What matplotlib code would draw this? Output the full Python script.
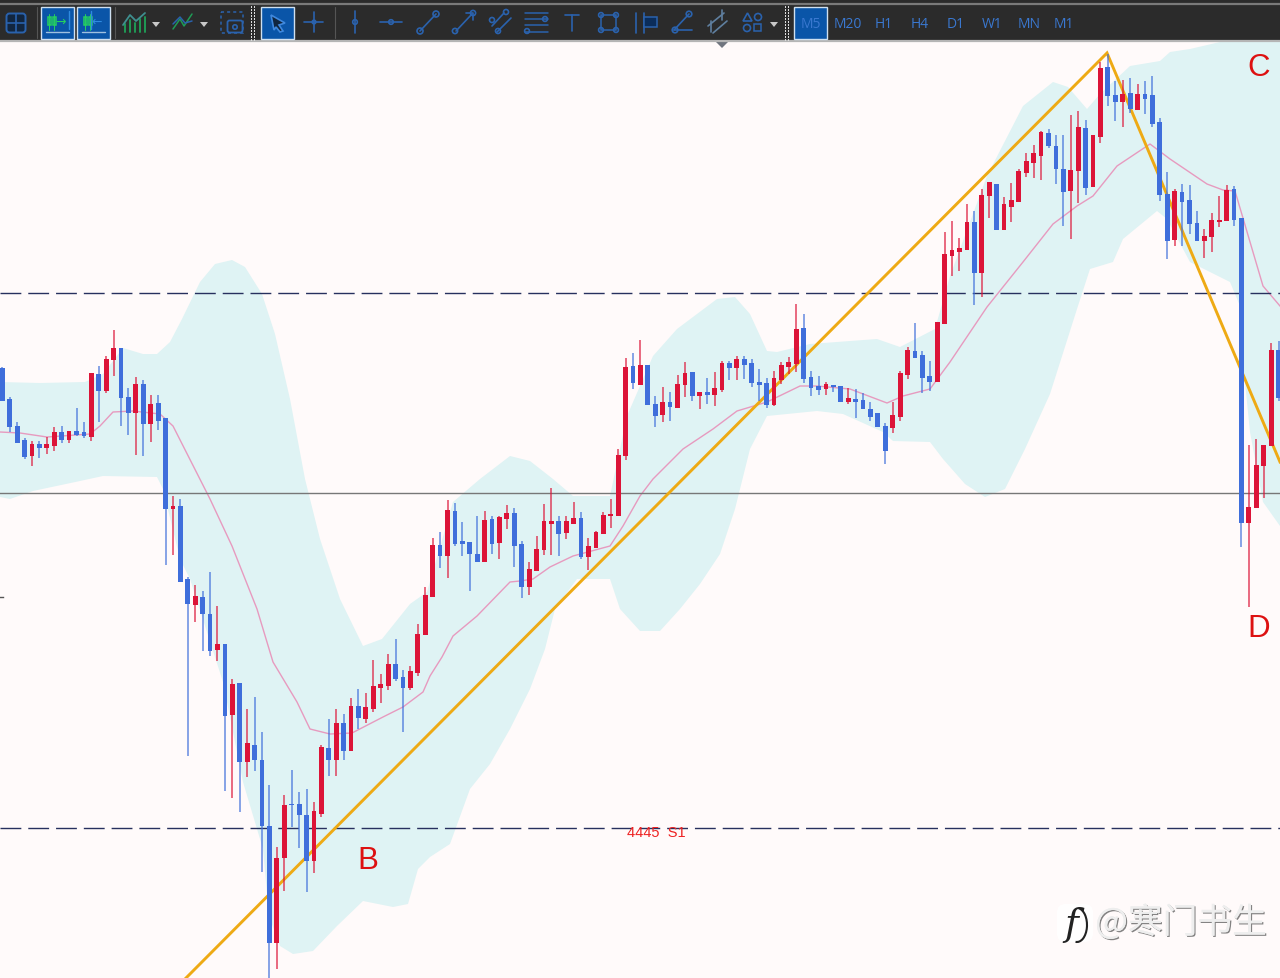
import matplotlib
matplotlib.use("Agg")
import matplotlib.pyplot as plt
import matplotlib.patches as patches
import matplotlib.patheffects as pe

# chart units are screen rows / columns
FIRST_BAR = 2.3
BAR_STEP = 7.42

kinds = ("bbbbrbrrbr" "bbrbrrbbrb" "rbbrbbrbbr" "brbrbbbrrb" "bbrrbrbrbr"
         "rrrbbrrrrb" "rbbbbrbrrb" "brrrrbrrbr" "rrrrrbrbbr" "brrbrbrrbr"
         "bbbbrrrrbb" "brbbrbbbbb" "rrrbbbrrrr" "rbrrbrrrrr" "rbbbrrbrrb"
         "brbrbbbbrb" "bbrrrrbbrr" "rrb")

body_top = [369, 400, 427, 441, 445, 445, 445, 433, 433, 432,
            432, 433, 374, 375, 360, 349, 349, 398, 385, 385,
            405, 404, 419, 507, 507, 580, 597, 598, 615, 645,
            645, 685, 684, 744, 746, 761, 827, 859, 806, 805,
            805, 816, 812, 748, 749, 724, 724, 707, 707, 708,
            687, 685, 665, 665, 678, 672, 635, 596, 546, 546,
            511, 512, 542, 543, 555, 521, 520, 518, 514, 514,
            545, 570, 550, 522, 522, 522, 522, 519, 519, 547,
            533, 516, 515, 456, 368, 367, 366, 366, 405, 403,
            403, 385, 374, 373, 393, 393, 389, 364, 364, 360,
            360, 364, 383, 384, 379, 366, 363, 330, 329, 378,
            387, 385, 386, 387, 399, 400, 401, 410, 414, 427,
            416, 374, 351, 352, 356, 377, 323, 255, 251, 249,
            223, 223, 196, 183, 185, 205, 201, 172, 162, 154,
            133, 134, 147, 170, 171, 128, 129, 136, 69, 68,
            96, 95, 94, 95, 95, 96, 123, 195, 192, 193,
            201, 224, 237, 221, 221, 191, 190, 219, 508, 466,
            446, 351, 351]
body_bottom = [402, 428, 444, 458, 457, 449, 449, 447, 441, 441,
               436, 437, 438, 392, 392, 361, 399, 414, 414, 425,
               425, 422, 510, 510, 583, 605, 606, 615, 652, 651,
               717, 716, 763, 763, 761, 827, 944, 944, 859, 806,
               816, 862, 862, 815, 761, 761, 752, 752, 719, 720,
               710, 689, 687, 680, 689, 689, 674, 636, 598, 557,
               557, 545, 545, 555, 563, 563, 545, 544, 520, 547,
               588, 588, 572, 551, 525, 535, 534, 525, 558, 558,
               549, 535, 517, 517, 457, 384, 386, 406, 417, 416,
               408, 409, 386, 397, 397, 396, 396, 391, 369, 369,
               366, 384, 386, 406, 406, 381, 368, 365, 380, 389,
               391, 390, 388, 403, 403, 403, 410, 418, 428, 452,
               429, 418, 376, 359, 379, 383, 383, 325, 257, 253,
               251, 274, 274, 197, 231, 231, 208, 203, 174, 164,
               157, 147, 170, 193, 192, 172, 189, 188, 138, 97,
               103, 103, 110, 111, 100, 125, 196, 242, 241, 203,
               225, 242, 242, 238, 223, 222, 221, 524, 524, 509,
               467, 447, 399]
wick_high = [368, 398, 423, 439, 442, 442, 438, 428, 427, 432,
             409, 423, 374, 367, 357, 331, 349, 389, 378, 381,
             396, 396, 419, 497, 500, 578, 586, 592, 573, 607,
             645, 680, 684, 710, 698, 733, 786, 848, 796, 771,
             793, 790, 803, 746, 720, 710, 715, 699, 690, 694,
             661, 675, 655, 640, 671, 667, 625, 588, 539, 533,
             501, 504, 523, 543, 517, 512, 517, 517, 506, 509,
             542, 563, 537, 505, 489, 517, 517, 503, 513, 539,
             532, 513, 500, 450, 359, 354, 341, 366, 397, 388,
             393, 376, 363, 373, 393, 379, 373, 362, 362, 357,
             357, 360, 370, 379, 372, 363, 358, 305, 315, 372,
             377, 383, 386, 387, 389, 390, 394, 403, 414, 424,
             403, 372, 348, 324, 352, 362, 323, 233, 222, 239,
             205, 212, 190, 183, 185, 198, 184, 170, 154, 146,
             132, 130, 136, 136, 116, 112, 121, 136, 63, 55,
             82, 81, 79, 85, 82, 77, 119, 173, 190, 185,
             186, 212, 230, 214, 197, 186, 187, 219, 446, 440,
             446, 344, 342]
wick_low = [402, 433, 444, 460, 467, 459, 455, 452, 444, 444,
            437, 439, 442, 423, 394, 377, 427, 436, 456, 457,
            443, 431, 566, 556, 583, 757, 623, 652, 657, 662,
            792, 799, 813, 778, 772, 873, 979, 970, 892, 828,
            849, 893, 874, 818, 777, 777, 761, 752, 730, 724,
            713, 704, 691, 682, 733, 691, 677, 636, 598, 569,
            579, 547, 557, 592, 563, 563, 555, 560, 530, 568,
            599, 596, 572, 556, 556, 557, 540, 525, 560, 571,
            549, 535, 529, 517, 461, 390, 386, 406, 428, 423,
            422, 409, 398, 402, 410, 405, 407, 393, 381, 381,
            380, 388, 402, 409, 407, 385, 375, 373, 384, 397,
            396, 396, 393, 403, 405, 419, 410, 422, 428, 465,
            434, 422, 380, 359, 394, 392, 383, 325, 277, 272,
            251, 306, 298, 219, 231, 231, 223, 203, 178, 179,
            181, 149, 185, 227, 240, 204, 196, 188, 144, 107,
            122, 128, 114, 111, 115, 128, 202, 260, 247, 247,
            235, 242, 259, 253, 228, 222, 227, 548, 608, 509,
            499, 447, 402]

# bollinger band, read at its corners
upper_x = [0, 40, 85, 103, 123, 143, 157, 170, 182, 200, 215, 232, 245, 262, 275, 290, 305, 320, 340, 363,
           382, 410, 427, 453, 480, 510, 530, 553, 573, 610, 627, 653, 677, 717, 735, 750, 767, 777, 810, 877,
           900, 935, 950, 987, 1023, 1053, 1068, 1087, 1100, 1130, 1160, 1170, 1190, 1220, 1280]
upper_y = [383, 384, 383, 375, 349, 355, 355, 343, 320, 283, 265, 261, 268, 295, 335, 400, 480, 540, 600, 647,
           640, 605, 593, 503, 480, 457, 462, 480, 497, 497, 417, 357, 330, 300, 298, 315, 352, 353, 345, 340,
           348, 330, 277, 177, 107, 83, 88, 110, 95, 67, 62, 53, 50, 43, 43]
lower_x = [0, 10, 33, 80, 103, 157, 163, 180, 190, 223, 243, 263, 269, 280, 293, 313, 337, 363, 393, 408,
           418, 430, 450, 470, 490, 510, 530, 545, 555, 577, 610, 620, 640, 660, 680, 700, 720, 735, 750, 767,
           817, 843, 883, 893, 930, 943, 965, 985, 1005, 1025, 1050, 1077, 1090, 1113, 1123, 1157, 1167, 1190, 1230, 1240,
           1243, 1250, 1263, 1280]
lower_y = [498, 500, 492, 482, 477, 478, 490, 560, 580, 683, 783, 850, 917, 947, 955, 952, 927, 902, 908, 905,
           870, 858, 845, 790, 765, 730, 690, 650, 610, 580, 580, 610, 632, 632, 610, 585, 555, 510, 450, 417,
           412, 415, 433, 442, 443, 460, 485, 498, 490, 450, 395, 310, 270, 263, 240, 212, 220, 263, 283, 307,
           363, 433, 503, 527]
mid_x = [0, 20, 47, 90, 100, 113, 133, 160, 173, 210, 232, 257, 273, 297, 310, 330, 352, 383, 403, 423,
         430, 442, 453, 477, 510, 520, 533, 550, 573, 610, 623, 640, 653, 683, 713, 737, 767, 800, 817, 850,
         887, 903, 930, 950, 987, 1023, 1053, 1077, 1093, 1117, 1150, 1170, 1207, 1223, 1235, 1263, 1280]
mid_y = [433, 434, 438, 435, 427, 413, 412, 415, 427, 500, 547, 610, 663, 703, 730, 735, 734, 718, 708, 693,
         677, 658, 637, 617, 583, 582, 580, 568, 557, 547, 527, 497, 480, 450, 430, 412, 403, 387, 387, 390,
         404, 397, 390, 363, 308, 263, 225, 207, 197, 167, 145, 160, 185, 191, 192, 287, 307]

swing_x = [186, 1107, 1280]
swing_y = [979, 54, 463]
level_rows = [293.5, 828.5]
mid_row = 493.5

periods = ["M5", "M20", "H1", "H4", "D1", "W1", "MN", "M1"]
period_x = [811, 848, 884, 920, 956, 992, 1029, 1064]

BLUE = "#3f6edb"
RED = "#dc1438"
ICON = "#2a62ad"
GREEN = "#1f9a55"

fig = plt.figure(figsize=(12.8, 9.79), dpi=100, facecolor="#fffafa")
ax = fig.add_axes([0, 0, 1, 1])
ax.set_xlim(0, 1280)
ax.set_ylim(979, 0)
ax.axis("off")

# band and indicator lines
ax.fill(upper_x + lower_x[::-1], upper_y + lower_y[::-1], color="#dff3f4", lw=0, zorder=1)
ax.plot(mid_x, mid_y, color="#e79abf", lw=1.0, zorder=2)

for row in level_rows:
    ax.plot([0, 1280], [row, row], color="#27305e", lw=1.0, dashes=(15, 5), zorder=3)
ax.plot([0, 1280], [mid_row, mid_row], color="#777777", lw=1.0, zorder=3)

ax.plot(swing_x, swing_y, color="#eeaa14", lw=2.1, zorder=4, solid_joinstyle="miter")

# candles
for i, kind in enumerate(kinds):
    x = FIRST_BAR + i * BAR_STEP
    color = BLUE if kind == "b" else RED
    ax.plot([x, x], [wick_high[i], wick_low[i]], color=color, lw=1.1, alpha=0.8, zorder=5,
            solid_capstyle="butt")
    ax.bar(x, body_bottom[i] - body_top[i], bottom=body_top[i], width=4.8, color=color, lw=0, zorder=6)

# labels
for label, x, y in [("B", 368, 861), ("C", 1259, 68), ("D", 1259, 629)]:
    ax.text(x, y, label, color="#dd1111", fontsize=22.5, family="Liberation Sans",
            ha="center", va="center", zorder=8)
ax.text(656, 833, "4445  S1", color="#ee2222", fontsize=10.5, family="Liberation Sans",
        ha="center", va="center", zorder=8)
ax.plot([0, 3], [598, 598], color="#555555", lw=1, zorder=8)
ax.fill([716, 728, 722], [43, 43, 49], color="#70757f", lw=0, zorder=8)


# toolbar
def seg(xs, ys, color=ICON, lw=1.2):
    ax.plot(xs, ys, color=color, lw=lw, zorder=12, solid_capstyle="round")


def dot(x, y, r=3.0, color=ICON):
    ax.add_patch(patches.Circle((x, y), r, facecolor="none", edgecolor=color, lw=1.2, zorder=12))


def box(x, y, w, h, color=ICON, face="none"):
    ax.add_patch(patches.Rectangle((x, y), w, h, facecolor=face, edgecolor=color, lw=1.1, zorder=12))


def caret(x, y=25):
    ax.fill([x - 4, x + 4, x], [y - 2, y - 2, y + 3], color="#c8c8c8", lw=0, zorder=12)


def button(x, w=33):
    ax.add_patch(patches.Rectangle((x, 7.5), w, 32, facecolor="#0a55a8", edgecolor="#cfe0f0", lw=1, zorder=11))


def dots(x):
    for row in range(7, 41, 3):
        ax.fill([x - 2, x - 1, x - 1, x - 2], [row, row, row + 1.5, row + 1.5], color="#dddddd", lw=0, zorder=12)
        ax.fill([x + 1, x + 2, x + 2, x + 1], [row, row, row + 1.5, row + 1.5], color="#dddddd", lw=0, zorder=12)


ax.add_patch(patches.Rectangle((0, 0), 1280, 41.5, facecolor="#2b2b2b", lw=0, zorder=10))
ax.plot([0, 1280], [5, 5], color="#7a7a7a", lw=1.6, zorder=11)
ax.plot([0, 1280], [42, 42], color="#b5b5b5", lw=1.6, zorder=11)

for x in [37, 115, 335]:
    seg([x, x], [8, 39], color="#555555", lw=0.8)
for x in [253, 787]:
    dots(x)
for x in [41, 77, 261, 794]:
    button(x)

# layout grid
ax.add_patch(patches.FancyBboxPatch((8, 16), 16, 16, boxstyle="round,pad=1.5,rounding_size=3",
                                    facecolor="#12263f", edgecolor=ICON, lw=1.4, zorder=12))
seg([16, 16], [15, 33])
seg([7, 25], [24, 24])

# chart shift buttons
for x, sym in [(41, "→"), (77, "←")]:
    for cx in [x + 8, x + 13]:
        seg([cx, cx], [15, 31], color="#25d060", lw=0.7)
        box(cx - 1.5, 18, 3, 8, color="#25d060")
    seg([x + 28 if sym == "→" else x + 14, x + 28 if sym == "→" else x + 14], [12, 30], color="#2f8ae0", lw=1.0)
    ax.text(x + 20, 22, sym, color="#25d060" if sym == "→" else "#2f8ae0", fontsize=9, ha="center", va="center", zorder=12)
    seg([x + 5, x + 28], [33, 33], color="#9fc0e0", lw=1.0)

# indicators
for x, h in zip([125, 130, 135, 140, 145], [8, 12, 9, 13, 15]):
    seg([x, x], [33, 33 - h], color=GREEN, lw=1.4)
seg([123, 130, 136, 145], [26, 16, 22, 14], color="#3f8f8f", lw=1.3)
caret(156)
seg([173, 180, 184, 192], [30, 20, 27, 15], color=GREEN, lw=1.1)
seg([173, 180, 185, 192], [25, 18, 24, 22], color=ICON, lw=1.1)
caret(204)

# camera
ax.add_patch(patches.Rectangle((221, 13), 22, 21, facecolor="none", edgecolor=ICON, lw=1.1, ls=(0, (2, 2)), zorder=12))
ax.add_patch(patches.FancyBboxPatch((228, 22), 14, 11, boxstyle="round,pad=0.5,rounding_size=2",
                                    facecolor="none", edgecolor=ICON, lw=1.3, zorder=12))
dot(235, 28, 2.2)

# cursor
ax.fill([271, 285, 279, 283, 280, 276, 274], [16, 24, 26, 32, 33, 28, 31], facecolor="#10263f", edgecolor="#3f88dd",
        lw=1.2, zorder=12)
# crosshair
seg([304, 323], [23, 23])
seg([314, 314], [13, 33])
dot(314, 23, 1.8)
# vertical and horizontal line
seg([355, 355], [12, 34])
dot(355, 23, 2.3)
seg([380, 402], [23, 23])
dot(391, 23, 2.3)
# trend line
seg([420, 436], [32, 15])
dot(420, 32, 3)
dot(436, 15, 3)
# arrow line
seg([456, 472], [32, 15])
seg([466, 473, 473], [14, 14, 21])
dot(455, 32, 2.6)
dot(473, 14, 2.6)
# parallel channel
seg([492, 504], [27, 14])
seg([497, 511], [33, 19])
dot(506, 13, 2.5)
dot(492, 21, 2.5)
dot(498, 32, 2.5)
# fibo
for row in [14, 20, 26, 33]:
    seg([525, 548], [row, row], lw=1.1)
dot(545, 20, 2.4)
dot(527, 32, 2.4)
# text tool
seg([565, 579], [16, 16])
seg([572, 572], [16, 32])
# rectangle tool
box(601, 16, 15, 15)
for cx, cy in [(601, 16), (616, 16), (601, 31), (616, 31)]:
    dot(cx, cy, 2.4)
# bracket tool
seg([636, 636], [14, 34])
seg([644, 644], [14, 34])
box(644, 18, 13, 10, face="#0b2d5a")
# angle line
seg([674, 689], [31, 15])
seg([674, 692], [31, 31])
dot(675, 31, 2.8)
dot(689, 15, 2.8)
# arrows tool
seg([708, 724], [27, 14], color="#5f7f9f")
seg([713, 727], [34, 22], color="#5f7f9f")
seg([722, 722], [11, 21], color="#5f7f9f")
seg([711, 711], [22, 33], color="#5f7f9f")
# shapes
ax.fill([743, 752, 747.5], [22, 22, 14], facecolor="none", edgecolor=ICON, lw=1.2, zorder=12)
dot(758, 18, 3.5)
dot(747, 29, 3.5)
box(754, 25, 7, 7)
caret(774)

for label, x in zip(periods, period_x):
    ax.text(x, 25, label, color="#3a78d0", fontsize=10, family="Open Sans", ha="center", va="center", zorder=13)

# watermark
ax.add_patch(patches.FancyBboxPatch((1060, 908), 30, 32, boxstyle="round,pad=3,rounding_size=9",
                                    facecolor="white", edgecolor="none", alpha=0.95, zorder=8))
ax.text(1071, 925, "f", color="#222222", fontsize=27, style="italic", family="DejaVu Serif",
        ha="center", va="center", zorder=9)
seg_arc = patches.Arc((1077, 926), 20, 34, theta1=-85, theta2=95, color="#222222", lw=1.5, zorder=9)
ax.add_patch(seg_arc)
wm = ax.text(1181, 924, "@寒门书生", color="#eeeeee", fontsize=25, family=["Noto Sans CJK SC", "DejaVu Sans"],
             ha="center", va="center", zorder=9)
wm.set_path_effects([pe.withSimplePatchShadow(offset=(0.9, -0.9), shadow_rgbFace="#666666", alpha=0.8), pe.Normal()])

fig.savefig("out.png", dpi=100, facecolor=fig.get_facecolor())
